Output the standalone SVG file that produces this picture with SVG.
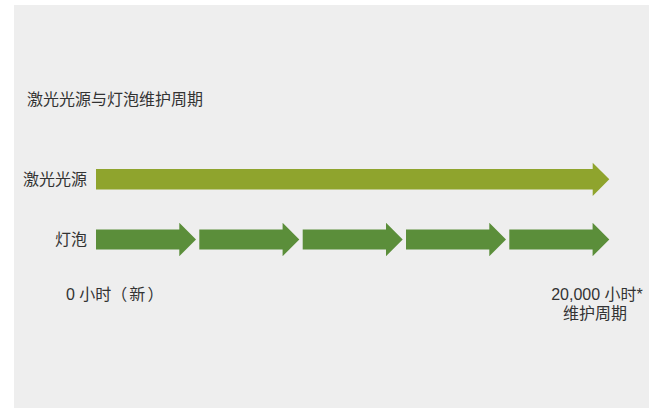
<svg xmlns="http://www.w3.org/2000/svg" width="649" height="408" viewBox="0 0 649 408">
<style>
text{font-family:"Liberation Sans","Noto Sans CJK SC",sans-serif;font-size:16px;fill:#333333}
.laser{fill:#8FA42D}
.bulb{fill:#5B8E3A}
</style>
<defs>
<path id="arr" d="M0,-10 H83.3 V-16.7 L100,0 L83.3,16.7 V10 H0 Z"/>
</defs>
<rect width="649" height="408" fill="#ffffff"/>
<rect x="14" y="5" width="635" height="403" fill="#eeeeee"/>
<g id="title"><text x="27" y="104.5">激光光源与灯泡维护周期</text></g>
<g id="label-laser"><text x="87" y="184.5" text-anchor="end">激光光源</text></g>
<g id="label-bulb"><text x="87" y="245" text-anchor="end">灯泡</text></g>
<g id="label-start"><text x="66" y="299.5">0 小时（<tspan dx="2">新</tspan><tspan dx="2">）</tspan></text></g>
<g id="label-end"><text x="597" y="299.5" text-anchor="middle">20,000 小时*</text><text x="595" y="318.5" text-anchor="middle">维护周期</text></g>
<g id="connectors">
<path id="laser-arrow" class="laser" d="M96,169 H592.7 V162.7 L609.3,179.3 L592.7,196 V189.5 H96 Z"/>
<use href="#arr" class="bulb" x="96" y="239.5"/>
<use href="#arr" class="bulb" x="199.3" y="239.5"/>
<use href="#arr" class="bulb" x="302.7" y="239.5"/>
<use href="#arr" class="bulb" x="406" y="239.5"/>
<use href="#arr" class="bulb" x="509.3" y="239.5"/>
</g>
</svg>
